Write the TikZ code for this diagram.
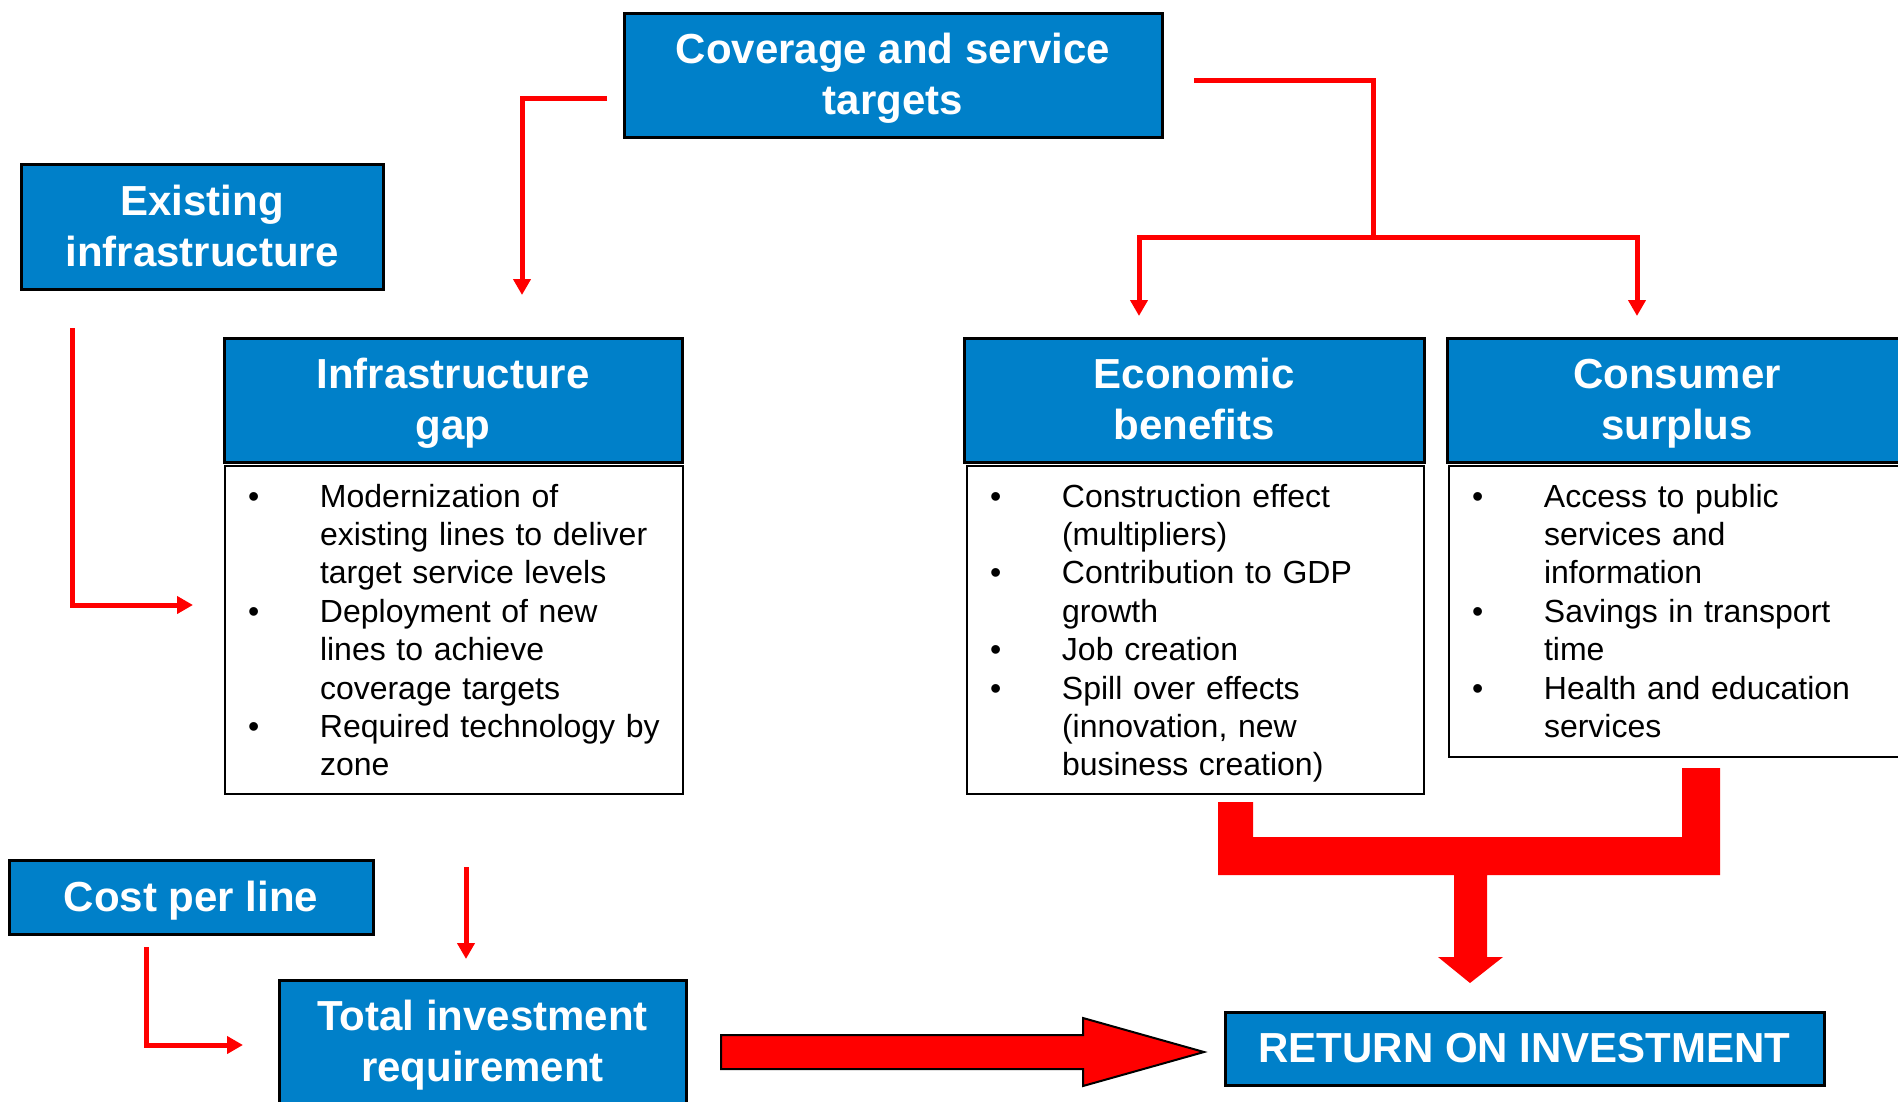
\documentclass[tikz,border=0pt]{standalone}
\usepackage{fontspec}
\setmainfont{Liberation Sans}
\usetikzlibrary{arrows.meta}
\definecolor{boxblue}{RGB}{0,128,201}
\newcommand{\headfont}{\fontsize{42}{51}\selectfont\bfseries}
\newcommand{\bodyfont}{\fontsize{32}{38.4}\selectfont}
\newcommand{\hs}{\rule[-9.5pt]{0pt}{47.5pt}}
\newcommand{\bitem}[1]{\noindent\hangindent=72pt\hangafter=1\makebox[72pt][l]{\textbullet}#1\par}

\begin{document}
\begin{tikzpicture}[x=1pt,y=-1pt,join=miter,
        headbox/.style={draw=black,line width=3pt,fill=boxblue,text=white,font=\headfont,align=center,anchor=north west,inner sep=0pt,outer sep=0pt},
        bodybox/.style={draw=black,line width=2pt,anchor=north west,inner xsep=23pt,inner ysep=0pt,outer sep=0pt,text height=41pt,font=\bodyfont,align=left},
        redline/.style={draw=red,line width=5pt},
        redtip/.style={-{Triangle[length=16pt,width=17pt]}}]
        \useasboundingbox (0,0) rectangle (1898,1101);
        \clip (0,0) rectangle (1898,1101);
        % header boxes
        \node[headbox,minimum width=538pt,minimum height=124pt] (cov) at (624,13) {\hs Coverage and service\\\hs targets};
        \node[headbox,minimum width=362pt,minimum height=125pt] (exist) at (21,164) {\hs Existing\\\hs infrastructure};
        \node[headbox,minimum width=458pt,minimum height=124pt] (gap) at (224,338) {\hs Infrastructure\\\hs gap};
        \node[headbox,minimum width=460pt,minimum height=124pt] (econ) at (964,338) {\hs Economic\\\hs benefits};
        \node[headbox,minimum width=460pt,minimum height=124pt] (cons) at (1447,338) {\hs Consumer\\\hs surplus};
        \node[headbox,minimum width=364pt,minimum height=74pt] (cost) at (9,860) {\hs Cost per line};
        \node[headbox,minimum width=407pt,minimum height=124pt] (total) at (279,980) {\hs Total investment\\\hs requirement};
        \node[headbox,minimum width=599pt,minimum height=73pt] (roi) at (1225,1012) {\hs RETURN ON INVESTMENT};
        % bullet boxes
        \node[bodybox,text width=412pt,text depth=287pt] (gapbody) at ([shift={(1,4)}]gap.south west) {%
                \bitem{Modernization of\newline existing lines to deliver\newline target service levels}%
                \bitem{Deployment of new\newline lines to achieve\newline coverage targets}%
                \bitem{Required technology by\newline zone}};
        \node[bodybox,text width=411pt,text depth=287pt] (econbody) at ([shift={(3,4)}]econ.south west) {%
                \bitem{Construction effect\newline (multipliers)}%
                \bitem{Contribution to GDP\newline growth}%
                \bitem{Job creation}%
                \bitem{Spill over effects\newline (innovation, new\newline business creation)}};
        \node[bodybox,text width=410pt,text depth=250pt] (consbody) at ([shift={(2,4)}]cons.south west) {%
                \bitem{Access to public\newline services and\newline information}%
                \bitem{Savings in transport\newline time}%
                \bitem{Health and education\newline services}};
        % thin connectors
        \coordinate (covl) at (607,98);
        \coordinate (gapin) at (522,295);
        \coordinate (existout) at (72,328);
        \coordinate (gapside) at (193,605);
        \coordinate (covr) at (1194,80);
        \coordinate (fork) at (1373,237);
        \coordinate (econin) at (1139,316);
        \coordinate (consin) at (1637,316);
        \coordinate (costout) at (146,947);
        \coordinate (totalside) at (243,1045);
        \coordinate (gapout) at (466,867);
        \coordinate (totalin) at (466,959);
        \draw[redline,redtip] (covl) -- (covl -| gapin) -- (gapin);
        \draw[redline,redtip] (existout) |- (gapside);
        \draw[redline] (covr) -| (fork);
        \draw[redline,{Triangle[length=16pt,width=17pt]}-{Triangle[length=16pt,width=17pt]}] (econin) |- (fork) -| (consin);
        \draw[redline,redtip] (costout) |- (totalside);
        \draw[redline,redtip] (gapout) -- (totalin);
        % block arrows
        \fill[red] (1218,802)--(1253,802)--(1253,837)--(1682,837)--(1682,768)--(1720,768)--(1720,875)--(1487,875)--(1487,957)--(1503,957)--(1470,983)--(1438,957)--(1454,957)--(1454,875)--(1218,875)--cycle;
        \filldraw[fill=red,draw=black,line width=2pt] (721,1035)--(1083,1035)--(1083,1018)--(1204,1052)--(1083,1086)--(1083,1069)--(721,1069)--cycle;
\end{tikzpicture}
\end{document}
